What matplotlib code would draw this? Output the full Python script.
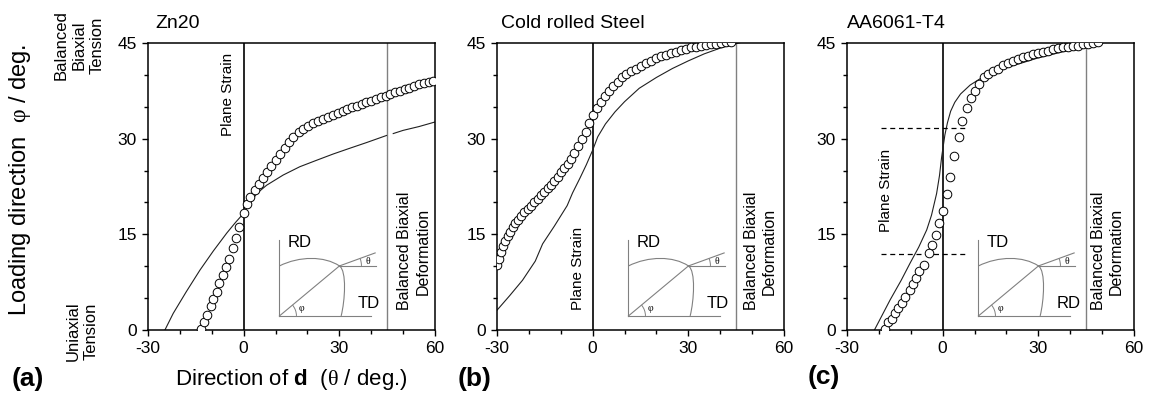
#!/usr/bin/env python3
"""
Loading direction vs direction of d for Zn20, cold rolled steel and AA6061-T4.

Output: out.png
"""
import numpy as np
import matplotlib
matplotlib.use('Agg')
import matplotlib.pyplot as plt
from matplotlib.path import Path
from matplotlib.patches import PathPatch, Arc

# --- data ------------------------------------------------------------------
zn_circ_theta = [-13.5, -12.4, -11.4, -10.4, -9.5, -8.5, -7.6, -6.5, -5.5, -4.5,
                 -3.5, -2.5, -1.5, 0.0, 1.0, 2.1, 3.4, 4.7, 6.1, 7.3, 8.7, 10.1,
                 11.5, 12.9, 14.3, 15.6, 17.2, 18.6, 20.2, 21.8, 23.4, 25.0, 26.5,
                 28.0, 29.5, 31.0, 32.5, 34.0, 35.5, 37.0, 38.5, 40.0, 41.5, 43.0,
                 44.5, 46.0, 47.5, 49.0, 50.5, 52.0, 53.5, 55.0, 56.5, 58.0, 59.5]
zn_circ_phi = [0.1, 1.2, 2.4, 3.7, 4.8, 6.0, 7.3, 8.6, 9.9, 11.2,
               12.8, 14.4, 16.1, 18.3, 19.8, 20.9, 22.0, 22.9, 23.8, 24.7, 25.7, 26.7,
               27.6, 28.6, 29.5, 30.3, 31.0, 31.5, 32.0, 32.4, 32.8, 33.1, 33.4,
               33.7, 34.0, 34.3, 34.6, 34.9, 35.1, 35.4, 35.7, 35.9, 36.2, 36.5,
               36.7, 37.0, 37.3, 37.5, 37.8, 38.0, 38.3, 38.5, 38.7, 38.9, 39.1]
zn_line_theta = [-24.7, -22.1, -18.0, -13.7, -9.5, -5.3, -2.5, 0.0, 2.0, 4.1, 7.2,
                 12.4, 17.6, 22.8, 28.1, 33.3, 38.6, 44.8, np.nan, 46.9, 50.0, 55.0, 59.9]
zn_line_phi = [0.0, 2.6, 6.0, 9.4, 12.4, 15.2, 16.9, 18.3, 19.9, 21.4, 22.7,
               24.3, 25.6, 26.6, 27.6, 28.5, 29.4, 30.5, np.nan, 30.8, 31.3, 31.9, 32.6]

st_circ_theta = [-30.1, -29.5, -28.9, -28.2, -27.5, -26.6, -25.9, -25.1, -24.2, -23.3,
                 -22.4, -21.4, -20.4, -19.3, -18.3, -17.2, -16.2, -15.2, -14.1, -13.1,
                 -12.0, -11.0, -9.9, -8.9, -7.8, -6.8, -5.7, -4.5, -3.3, -2.1, -1.0,
                 0.0, 1.3, 2.6, 4.0, 5.2, 6.5, 7.8, 9.1, 10.4, 12.0, 13.6, 15.2, 16.7,
                 18.3, 19.9, 21.4, 23.0, 24.6, 26.1, 27.7, 29.3, 30.8, 32.4, 34.0,
                 35.5, 37.1, 38.7, 40.2, 41.8, 43.4]
st_circ_phi = [10.2, 11.2, 12.3, 13.2, 14.0, 14.7, 15.4, 16.1, 16.7, 17.3,
               17.8, 18.5, 19.0, 19.5, 20.0, 20.5, 21.2, 21.7, 22.2, 22.8,
               23.4, 24.0, 24.7, 25.4, 26.0, 26.8, 27.7, 28.8, 29.9, 31.0, 32.4,
               33.7, 34.8, 35.8, 36.7, 37.5, 38.2, 38.9, 39.6, 40.1, 40.6, 41.0, 41.4, 41.8,
               42.2, 42.6, 42.9, 43.1, 43.4, 43.6, 43.9, 44.1, 44.3, 44.4, 44.6,
               44.7, 44.8, 44.9, 45.0, 45.1, 45.2]
st_line_theta = [-30.0, -26.0, -22.0, -18.0, -15.7, -12.0, -8.0, -6.3, -4.0, -2.0, 0.0,
                 1.6, 4.0, 7.0, 10.0, 14.6, 20.0, 25.0, 30.0, 35.0, 40.0, 45.0, 48.0]
st_line_phi = [3.1, 5.4, 7.8, 10.8, 13.5, 16.3, 19.5, 21.5, 23.8, 25.9, 28.2,
               30.3, 32.3, 34.2, 35.8, 37.9, 39.6, 41.0, 42.2, 43.3, 44.2, 44.9, 45.3]

al_circ_theta = [-18.1, -17.0, -16.0, -14.9, -13.9, -12.9, -11.8, -10.4, -9.4, -8.4,
                 -7.3, -5.9, -4.2, -3.2, -2.2, -1.0, 0.2, 1.3, 2.4, 3.7, 5.0, 6.2,
                 7.5, 8.9, 10.2, 11.5, 12.9, 14.3, 15.9, 17.5, 19.0, 20.6, 22.2, 23.7,
                 25.3, 26.9, 28.4, 30.0, 31.6, 33.1, 34.7, 36.3, 37.8, 39.4, 41.0,
                 42.5, 44.1, 45.7, 47.2, 48.8]
al_circ_phi = [0.1, 1.2, 1.8, 2.6, 3.4, 4.2, 5.1, 6.2, 7.2, 8.2,
               9.3, 10.2, 12.0, 13.4, 14.9, 16.8, 18.7, 21.3, 24.0, 27.3, 30.3, 32.7,
               34.8, 36.3, 37.4, 38.6, 39.6, 40.1, 40.6, 41.0, 41.5, 41.8, 42.2, 42.5,
               42.8, 43.0, 43.3, 43.5, 43.6, 43.8, 44.0, 44.2, 44.3, 44.4, 44.5,
               44.6, 44.8, 44.9, 45.0, 45.1]
al_line_theta = [-21.4, -19.0, -16.5, -13.0, -10.2, -7.5, -5.0, -3.5, -1.9, -1.0, -0.3,
                 0.7, 1.5, 2.5, 3.8, 5.6, 8.6, 12.7, 19.0, 25.0, 29.5, 35.0, 40.0, 45.0, 48.3]
al_line_phi = [0.0, 2.3, 4.7, 7.8, 10.5, 13.0, 15.7, 18.0, 21.4, 24.2, 27.2,
               30.6, 32.5, 34.3, 35.7, 37.0, 38.4, 39.7, 41.0, 41.9, 42.6, 43.3, 43.9, 44.5, 45.0]

al_dash_phi = [31.7, 11.9]
al_dash_span = [-19.2, 7.8]

panel_titles = ['Zn20', 'Cold rolled Steel', 'AA6061-T4']
panel_tags = ['(a)', '(b)', '(c)']
x_ticks = [-30, 0, 30, 60]
y_ticks = [0, 15, 30, 45]

SANS = 'Liberation Sans'
SERIF = 'Liberation Serif'
GRAY = '#808080'


def draw_inset(ax, top_label, right_label):
    # small yield-locus sketch, laid out in pixels of a 287 px wide axes
    ox, oy, s = 0.458, 0.049, 1.0 / 287
    tr = ax.transAxes

    def P(x, y):
        return (ox + x * s, oy + y * s)

    kw = dict(color=GRAY, lw=0.8, transform=tr, zorder=2, clip_on=False)
    for (x0, y0), (x1, y1) in [((0, 0), (0, 76)), ((0, 0), (92, 0)),
                               ((0, 0), (60, 50)), ((60, 50), (97, 50))]:
        a, b = P(x0, y0), P(x1, y1)
        ax.plot([a[0], b[0]], [a[1], b[1]], **kw)
    ang = np.deg2rad(20)
    a, b = P(60, 50), P(60 + 38 * np.cos(ang), 50 + 38 * np.sin(ang))
    ax.plot([a[0], b[0]], [a[1], b[1]], **kw)

    verts = [P(0, 50), P(20, 60), P(45, 60), P(60, 50),
             P(67.5, 45), P(65.5, 15), P(61.7, 0)]
    codes = [Path.MOVETO] + [Path.CURVE4] * 6
    ax.add_patch(PathPatch(Path(verts, codes), fill=False, ec=GRAY, lw=0.8,
                           transform=tr, zorder=2))
    ax.add_patch(Arc(P(0, 0), 34 * s, 34 * s, theta1=0, theta2=40,
                     color=GRAY, lw=0.7, transform=tr))
    ax.add_patch(Arc(P(60, 50), 44 * s, 44 * s, theta1=0, theta2=20,
                     color=GRAY, lw=0.7, transform=tr))
    ax.text(*P(22, 7), '\u03c6', fontsize=7, family=SERIF, transform=tr,
            ha='center', va='center')
    ax.text(*P(88, 54), '\u03b8', fontsize=7, family=SERIF, transform=tr,
            ha='center', va='center')
    ax.text(*P(8, 69), top_label, fontsize=12, family=SANS, transform=tr,
            ha='left', va='baseline')
    ax.text(*P(78, 8), right_label, fontsize=12, family=SANS, transform=tr,
            ha='left', va='baseline')


def main():
    plt.rcParams['font.family'] = SANS
    plt.rcParams['axes.unicode_minus'] = False
    plt.rcParams['mathtext.fontset'] = 'custom'
    plt.rcParams['mathtext.rm'] = SANS
    plt.rcParams['mathtext.bf'] = SANS + ':bold'
    plt.rcParams['mathtext.it'] = SERIF

    fig = plt.figure(figsize=(11.49, 3.94), dpi=100)
    W, H = 1149.0, 394.0
    lefts = [148, 497, 847]
    axes = [fig.add_axes([l / W, 64 / H, 287 / W, 287 / H]) for l in lefts]

    circs = [(zn_circ_theta, zn_circ_phi), (st_circ_theta, st_circ_phi),
             (al_circ_theta, al_circ_phi)]
    lines = [(zn_line_theta, zn_line_phi), (st_line_theta, st_line_phi),
             (al_line_theta, al_line_phi)]
    title_dx = [7, 4, 0]
    bbd_x = [53.4, 52.6, 51.7]

    for i, ax in enumerate(axes):
        ax.set_xlim(-30, 60)
        ax.set_ylim(0, 45)
        ax.set_xticks(x_ticks)
        ax.set_yticks(y_ticks)
        ax.set_xticks(np.arange(-20, 60, 10), minor=True)
        ax.set_yticks(np.arange(5, 45, 5), minor=True)
        ax.tick_params(which='both', direction='out', width=1.0, labelsize=12.5,
                       top=False, right=False)
        ax.tick_params(which='major', length=4.5)
        ax.tick_params(which='minor', length=3)
        for sp in ax.spines.values():
            sp.set_linewidth(1.1)

        ax.axvline(0, color='black', lw=1.2, zorder=1)
        ax.axvline(45, color=GRAY, lw=1.0, zorder=1)

        ax.plot(*lines[i], color='#202020', lw=0.8, zorder=2)
        ax.plot(*circs[i], ls='none', marker='o', ms=6.2, mfc='white',
                mec='black', mew=0.7, zorder=3)

        fig.text((lefts[i] + title_dx[i]) / W, 1 - 23 / H, panel_titles[i],
                 fontsize=14, ha='left', va='center')

        ax.text(bbd_x[i], 3.1, 'Balanced Biaxial\nDeformation',
                rotation=90, fontsize=11.5, ha='center', va='bottom',
                multialignment='center', linespacing=1.25)

    axes[0].text(-5.0, 43.4, 'Plane Strain', rotation=90, fontsize=11,
                 ha='center', va='top')
    axes[1].text(-4.7, 3.1, 'Plane Strain', rotation=90, fontsize=11,
                 ha='center', va='bottom')
    axes[2].text(-17.7, 15.4, 'Plane Strain', rotation=90, fontsize=11,
                 ha='center', va='bottom')
    for yv in al_dash_phi:
        axes[2].plot(al_dash_span, [yv, yv], color='black', lw=0.9,
                     ls=(0, (4, 3)), zorder=2)

    draw_inset(axes[0], 'RD', 'TD')
    draw_inset(axes[1], 'RD', 'TD')
    draw_inset(axes[2], 'TD', 'RD')

    fig.text(20 / W, 1 - 180 / H, r'Loading direction  $\varphi$ / deg.',
             rotation=90, fontsize=17, ha='center', va='center')
    fig.text(291 / W, 1 - 380 / H, r'Direction of $\mathbf{d}$  ($\theta$ / deg.)',
             fontsize=16, ha='center', va='center')
    fig.text(79 / W, 1 - 45 / H, 'Balanced\nBiaxial\nTension', rotation=90,
             fontsize=12, ha='center', va='center', multialignment='center',
             linespacing=1.25)
    fig.text(82 / W, 1 - 331 / H, 'Uniaxial\nTension', rotation=90,
             fontsize=12, ha='center', va='center', multialignment='center',
             linespacing=1.25)

    tag_pos = [(12, 379), (458, 379), (808, 377)]
    for (x, y), tag in zip(tag_pos, panel_tags):
        fig.text(x / W, 1 - y / H, tag, fontsize=19, fontweight='bold',
                 ha='left', va='center')

    fig.savefig('out.png', dpi=100, facecolor='white')
    print('saved out.png')


if __name__ == '__main__':
    main()
